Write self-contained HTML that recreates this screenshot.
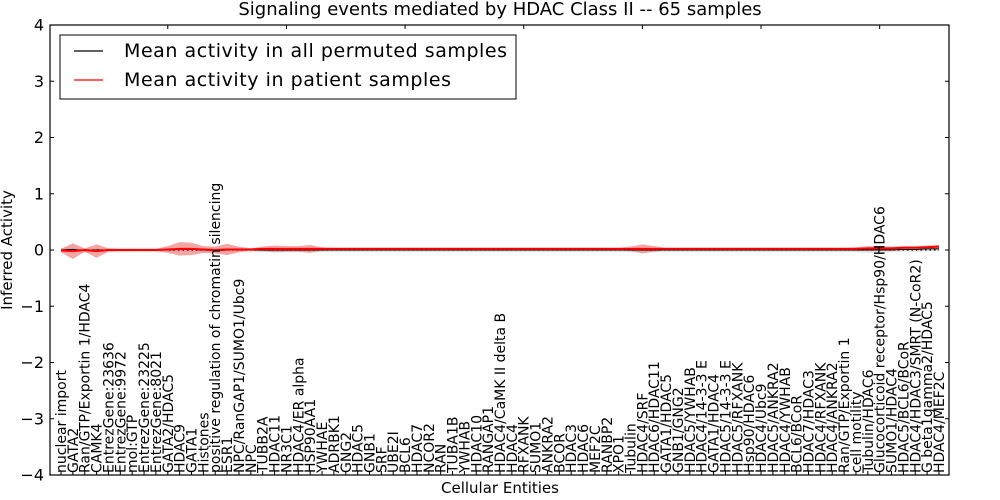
<!DOCTYPE html>
<html><head><meta charset="utf-8"><style>
body{margin:0;background:#fff;}
svg{display:block;font-family:"DejaVu Sans","Liberation Sans",sans-serif;}
</style></head><body>
<svg id="chart" width="1000" height="500" viewBox="0 0 1000 500">
<rect width="1000" height="500" fill="#fff"/>
<text x="500" y="15" font-size="18" text-anchor="middle">Signaling events mediated by HDAC Class II -- 65 samples</text>
<g id="plot"></g>
<text x="500" y="493" font-size="15" text-anchor="middle">Cellular Entities</text>
<text transform="translate(12,250) rotate(-90)" font-size="15" text-anchor="middle">Inferred Activity</text>
</svg>
<script>
const categories=["nuclear import","GATA2","Ran/GTP/Exportin 1/HDAC4","CAMK4","EntrezGene:23636","EntrezGene:9972","mol:GTP","EntrezGene:23225","EntrezGene:8021","GATA2/HDAC5","HDAC9","GATA1","Histones","positive regulation of chromatin silencing","ESR1","NPC/RanGAP1/SUMO1/Ubc9","NPC","TUBB2A","HDAC11","NR3C1","HDAC4/ER alpha","HSP90AA1","YWHAE","ADRBK1","GNG2","HDAC5","GNB1","SRF","UBE2I","BCL6","HDAC7","NCOR2","RAN","TUBA1B","YWHAB","HDAC10","RANGAP1","HDAC4/CaMK II delta B","HDAC4","RFXANK","SUMO1","ANKRA2","BCOR","HDAC3","HDAC6","MEF2C","RANBP2","XPO1","Tubulin","HDAC4/SRF","HDAC6/HDAC11","GATA1/HDAC5","GNB1/GNG2","HDAC5/YWHAB","HDAC4/14-3-3 E","GATA1/HDAC4","HDAC5/14-3-3 E","HDAC5/RFXANK","Hsp90/HDAC6","HDAC4/Ubc9","HDAC5/ANKRA2","HDAC4/YWHAB","BCL6/BCoR","HDAC7/HDAC3","HDAC4/RFXANK","HDAC4/ANKRA2","Ran/GTP/Exportin 1","cell motility","Tubulin/HDAC6","Glucocorticoid receptor/Hsp90/HDAC6","SUMO1/HDAC4","HDAC5/BCL6/BCoR","HDAC4/HDAC3/SMRT (N-CoR2)","G beta1gamma2/HDAC5","HDAC4/MEF2C"];
const patientMean=[-0.01,-0.02,0.0,-0.02,0.0,0.0,0.0,0.0,0.0,0.01,0.02,0.02,0.01,0.0,0.01,0.01,0.01,0.02,0.02,0.02,0.02,0.02,0.02,0.02,0.02,0.02,0.02,0.02,0.02,0.02,0.02,0.02,0.02,0.02,0.02,0.02,0.02,0.02,0.02,0.02,0.02,0.02,0.02,0.02,0.02,0.02,0.02,0.02,0.02,0.02,0.02,0.02,0.02,0.02,0.02,0.02,0.02,0.02,0.02,0.02,0.02,0.02,0.02,0.02,0.02,0.02,0.02,0.02,0.03,0.03,0.03,0.04,0.04,0.05,0.06];
const patientStd=[0.03,0.14,0.03,0.12,0.03,0.02,0.02,0.02,0.02,0.06,0.12,0.11,0.06,0.06,0.1,0.05,0.02,0.04,0.06,0.05,0.05,0.07,0.03,0.02,0.02,0.02,0.02,0.02,0.02,0.02,0.02,0.02,0.02,0.02,0.02,0.02,0.02,0.02,0.02,0.02,0.02,0.02,0.02,0.02,0.02,0.02,0.02,0.02,0.04,0.08,0.05,0.02,0.02,0.02,0.02,0.02,0.02,0.02,0.02,0.02,0.02,0.02,0.02,0.02,0.02,0.02,0.02,0.03,0.04,0.04,0.03,0.03,0.03,0.03,0.03];
const permMean=[0.0,0.01,-0.01,0.0,0.0,0.0,0.0,0.0,0.0,0.0,0.01,0.01,0.0,-0.01,0.0,0.0,0.0,0.0,0.0,0.0,0.0,0.0,0.0,0.0,0.0,0.0,0.0,0.0,0.0,0.0,0.0,0.0,0.0,0.0,0.0,0.0,0.0,0.0,0.0,0.0,0.0,0.0,0.0,0.0,0.0,0.0,0.0,0.0,0.0,0.0,0.0,0.0,0.0,0.0,0.0,0.0,0.0,0.0,0.0,0.0,0.0,0.0,0.0,0.0,0.0,0.0,0.0,0.0,0.0,0.0,0.0,0.01,0.01,0.02,0.02];
const permStd=[0.04,0.04,0.04,0.04,0.04,0.04,0.04,0.04,0.04,0.04,0.04,0.04,0.04,0.04,0.04,0.04,0.04,0.04,0.04,0.04,0.04,0.04,0.04,0.04,0.04,0.04,0.04,0.04,0.04,0.04,0.04,0.04,0.04,0.04,0.04,0.04,0.04,0.04,0.04,0.04,0.04,0.04,0.04,0.04,0.04,0.04,0.04,0.04,0.04,0.04,0.04,0.04,0.04,0.04,0.04,0.04,0.04,0.04,0.04,0.04,0.04,0.04,0.04,0.04,0.04,0.04,0.04,0.04,0.05,0.05,0.04,0.04,0.04,0.04,0.04];
const yTicks=[-4,-3,-2,-1,0,1,2,3,4];
const topTicks=[10,20,30,40,50,60,70];

const L=50,R=949,T=25,B=475;
const xs=i=>61+(i-1)*(939-61)/74;   // i is 1-based index
const ys=v=>250-v*(B-T)/8;
const NS="http://www.w3.org/2000/svg";
const plot=document.getElementById('plot');
function mk(tag,attrs,parent){const e=document.createElementNS(NS,tag);for(const k in attrs)e.setAttribute(k,attrs[k]);(parent||plot).appendChild(e);return e;}
function band(mean,std){let up=[],dn=[];mean.forEach((m,i)=>{up.push(xs(i+1)+','+ys(m+std[i]));dn.unshift(xs(i+1)+','+ys(m-std[i]));});return up.concat(dn).join(' ');}
function line(arr){return arr.map((m,i)=>xs(i+1)+','+ys(m)).join(' ');}

let e;
e=mk('polygon',{points:band(permMean,permStd),fill:'#c8c8c8','fill-opacity':'0.5'});


e=mk('polygon',{points:band(patientMean,patientStd),fill:'#f08080','fill-opacity':'0.7'});


e=mk('line',{x1:xs(1),x2:xs(75),y1:ys(0),y2:ys(0),stroke:'#000','stroke-width':1.3,'stroke-dasharray':'1.5,3'});


e=mk('polyline',{points:line(permMean),fill:'none',stroke:'#000','stroke-width':1});


e=mk('polyline',{points:line(patientMean),fill:'none',stroke:'#f00','stroke-width':2});



e=mk('rect',{x:L,y:T,width:R-L,height:B-T,fill:'none',stroke:'#000','stroke-width':1.2});



yTicks.forEach(v=>{
  const y=ys(v);
  let t=mk('line',{x1:L,x2:L+4,y1:y,y2:y,stroke:'#000'});
  
  
  t=mk('line',{x1:R-4,x2:R,y1:y,y2:y,stroke:'#000'});
  
  
  const lb=mk('text',{x:L-6,y:y+5.5,'font-size':16,'text-anchor':'end'});
  lb.textContent=(v<0?'\u2212'+(-v):''+v);
  
  
});
topTicks.forEach(i=>{
  const t=mk('line',{x1:xs(i),x2:xs(i),y1:T,y2:T+4,stroke:'#000'});
  
  
});
categories.forEach((c,k)=>{
  const x=xs(k+1);
  const t=mk('line',{x1:x,x2:x,y1:B,y2:B-4,stroke:'#000'});
  
  
  const lb=mk('text',{transform:`translate(${x+5},${B-2}) rotate(-90)`,'font-size':14});
  lb.textContent=c;
  
  
});

const lg=mk('g',{});


mk('rect',{x:60,y:35,width:456,height:64,fill:'#fff',stroke:'#000','stroke-width':1},lg);
e=mk('line',{x1:74,x2:103,y1:51,y2:51,stroke:'#000','stroke-width':1.2},lg);


e=mk('text',{x:124,y:57,'font-size':19,textLength:383},lg);
e.textContent='Mean activity in all permuted samples';


e=mk('line',{x1:74,x2:103,y1:80,y2:80,stroke:'#f00','stroke-width':1.2},lg);


e=mk('text',{x:124,y:86,'font-size':19,textLength:327},lg);
e.textContent='Mean activity in patient samples';


</script>
</body></html>
